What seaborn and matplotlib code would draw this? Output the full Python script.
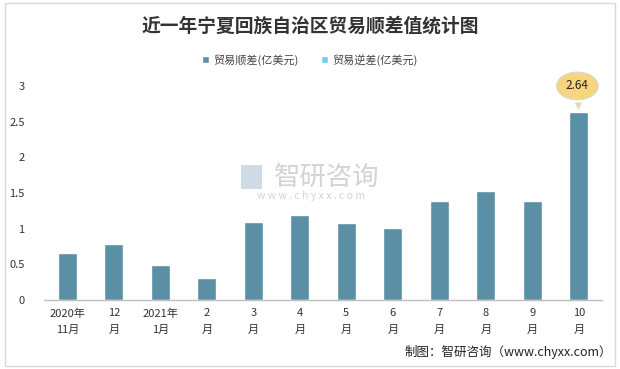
import matplotlib
matplotlib.use("Agg")
import matplotlib.pyplot as plt
import seaborn as sns
import pandas as pd
from matplotlib.patches import Patch, Rectangle

categories = ["2020年\n11月", "12\n月", "2021年\n1月", "2\n月", "3\n月", "4\n月",
              "5\n月", "6\n月", "7\n月", "8\n月", "9\n月", "10\n月"]
surplus = [0.66, 0.79, 0.49, 0.31, 1.09, 1.19, 1.08, 1.01, 1.39, 1.53, 1.39, 2.64]
series_names = ["贸易顺差(亿美元)", "贸易逆差(亿美元)"]
yticks = [0, 0.5, 1, 1.5, 2, 2.5, 3]
ytick_labels = ["0", "0.5", "1", "1.5", "2", "2.5", "3"]

sns.set_theme(style="white")
plt.rcParams['font.family'] = ['Noto Sans CJK SC', 'DejaVu Sans']

bar_color = "#5B8FA6"
deficit_color = "#6DCFF6"

df = pd.DataFrame({"month": categories, "value": surplus})

fig = plt.figure(figsize=(6.2, 3.69), dpi=100)
ax = fig.add_axes([0.071, 0.187, 0.90, 0.58])
sns.barplot(data=df, x="month", y="value", color=bar_color, width=0.41,
            saturation=1, ax=ax)

ax.set_ylim(0, 3)
ax.set_xlim(-0.5, len(categories) - 0.5)
ax.set_yticks(yticks)
ax.set_yticklabels(ytick_labels, fontsize=8, color="#333333")
ax.tick_params(axis="x", labelsize=8, colors="#333333", length=0, pad=6)
ax.tick_params(axis="y", length=0, pad=14)
for lbl in ax.get_xticklabels():
    lbl.set_linespacing(1.75)
ax.set_xlabel("")
ax.set_ylabel("")
for s in ["top", "right", "left"]:
    ax.spines[s].set_visible(False)
ax.spines["bottom"].set_color("#BFBFBF")
ax.spines["bottom"].set_linewidth(1)

# callout for the last bar
last = len(categories) - 1
ax.annotate(f"{surplus[last]:.2f}", xy=(last, surplus[last]),
            xytext=(last - 0.03, surplus[last] + 0.36),
            ha="center", va="center", fontsize=8.5, color="#222222",
            bbox=dict(boxstyle="ellipse,pad=0.28", fc="#F7D57F", ec="#D9D9D9", lw=0.8),
            arrowprops=dict(arrowstyle="wedge,tail_width=0.45,shrink_factor=0.5",
                            fc="#F7D57F", ec="#D9D9D9", lw=0.8),
            annotation_clip=False)

# title
fig.text(0.5, 0.93, "近一年宁夏回族自治区贸易顺差值统计图", ha="center", va="center",
         fontsize=13.5, fontweight="bold", color="#333333")

# legend
handles = [Patch(facecolor=bar_color, label=series_names[0]),
           Patch(facecolor=deficit_color, label=series_names[1])]
fig.legend(handles=handles, loc="center", bbox_to_anchor=(0.5, 0.838), ncol=2,
           frameon=False, fontsize=8, handlelength=0.6, handleheight=0.6,
           handletextpad=0.4, columnspacing=2.0, labelcolor="#444444")

# watermark
fig.text(0.527, 0.518, "智研咨询", ha="center", va="center", fontsize=19,
         color="#C8C8C8", alpha=0.8)
fig.text(0.502, 0.468, "w w w . c h y x x . c o m", ha="center", va="center",
         fontsize=7.5, color="#C8C8C8", alpha=0.8)
fig.patches.append(Rectangle((0.388, 0.487), 0.034, 0.065, transform=fig.transFigure,
                             fc="#C5D3E3", ec="none", alpha=0.8))

# source
fig.text(0.987, 0.045, "制图：智研咨询（www.chyxx.com）", ha="right", va="center",
         fontsize=9, color="#222222")

# outer border
fig.patches.append(Rectangle((0.008, 0.008), 0.984, 0.984, transform=fig.transFigure,
                             fill=False, ec="#D9D9D9", lw=1))

fig.savefig("out.png", dpi=100)
